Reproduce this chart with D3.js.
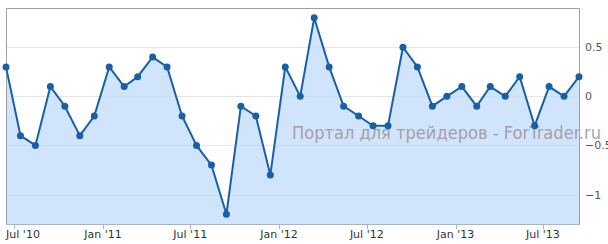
<!DOCTYPE html>
<html lang="en">
<head>
  <meta charset="utf-8">
  <title>Chart</title>
  <script src="https://d3js.org/d3.v7.min.js"></script>
  <style>
  body { margin: 0; background: #fff; }
  text { font-family: "DejaVu Sans", Verdana, sans-serif; }
  </style>
</head>
<body>
  <script>
  var width = 608;
  var height = 244;

  // monthly values, Jun 2010 .. Sep 2013
  var startMonth = [2010, 5];
  var values = [0.3, -0.4, -0.5, 0.1, -0.1, -0.4, -0.2, 0.3, 0.1, 0.2,
                0.4, 0.3, -0.2, -0.5, -0.7, -1.2, -0.1, -0.2, -0.8, 0.3,
                0, 0.8, 0.3, -0.1, -0.2, -0.3, -0.3, 0.5, 0.3, -0.1,
                0, 0.1, -0.1, 0.1, 0, 0.2, -0.3, 0.1, 0, 0.2];
  var yTicks = [-1, -0.5, 0, 0.5];
  var xTicks = ["2010-07", "2011-01", "2011-07", "2012-01", "2012-07", "2013-01", "2013-07"];
  var watermark = "Портал для трейдеров - ForTrader.ru";

  var data = values.map(function(v, i) {
    return { date: new Date(startMonth[0], startMonth[1] + i, 14), value: v };
  });

  var plotL = 6, plotR = 579, plotT = 8, plotB = 224;

  var svg = d3.select("body")
    .append("svg")
    .attr("width", width)
    .attr("height", height);

  var x = d3.scaleTime()
    .domain(d3.extent(data, function(d) { return d.date; }))
    .range([plotL, plotR]);

  var y = d3.scaleLinear()
    .domain([-1.3, 0.9])
    .range([plotB, plotT]);

  var parseMonth = d3.timeParse("%Y-%m");
  var fmt = d3.timeFormat("%b '%y");

  // grid
  svg.append("g")
    .selectAll("line")
    .data(yTicks)
    .enter().append("line")
      .attr("x1", plotL).attr("x2", plotR)
      .attr("y1", function(d) { return Math.round(y(d)) + 0.5; })
      .attr("y2", function(d) { return Math.round(y(d)) + 0.5; })
      .attr("stroke", "#e6e6e6");

  var area = d3.area()
    .x(function(d) { return x(d.date); })
    .y0(plotB)
    .y1(function(d) { return y(d.value); });

  svg.append("path")
    .datum(data)
    .attr("d", area)
    .attr("fill", "#bcd9fa")
    .attr("fill-opacity", 0.7);

  // watermark
  svg.append("text")
    .attr("x", 292)
    .attr("y", 139)
    .attr("font-size", "17px")
    .attr("textLength", 309)
    .attr("lengthAdjust", "spacingAndGlyphs")
    .attr("fill", "#9a8c8c")
    .attr("fill-opacity", 0.8)
    .text(watermark);

  // border
  svg.append("path")
    .attr("d", "M" + (plotL + 0.5) + "," + plotB + "V" + (plotT + 0.5) + "H" + (plotR + 0.5) + "V" + plotB)
    .attr("fill", "none")
    .attr("stroke", "#a0a0a0");

  var line = d3.line()
    .x(function(d) { return x(d.date); })
    .y(function(d) { return y(d.value); });

  svg.append("path")
    .datum(data)
    .attr("d", line)
    .attr("fill", "none")
    .attr("stroke", "#1760a8")
    .attr("stroke-width", 2);

  svg.append("g")
    .selectAll("circle")
    .data(data)
    .enter().append("circle")
      .attr("cx", function(d) { return x(d.date); })
      .attr("cy", function(d) { return y(d.value); })
      .attr("r", 3.5)
      .attr("fill", "#1760a8");

  // x axis
  var xAxis = svg.append("g");
  xAxis.append("line")
    .attr("x1", plotL).attr("x2", plotR + 1)
    .attr("y1", plotB + 0.5).attr("y2", plotB + 0.5)
    .attr("stroke", "#a8b4c4");

  var xt = xAxis.selectAll("g.tick")
    .data(xTicks.map(parseMonth))
    .enter().append("g")
      .attr("class", "tick");
  xt.append("line")
    .attr("x1", function(d) { return Math.round(x(d)) + 0.5; })
    .attr("x2", function(d) { return Math.round(x(d)) + 0.5; })
    .attr("y1", plotB)
    .attr("y2", plotB + 5)
    .attr("stroke", "#a8b4c4");
  xt.append("text")
    .attr("x", function(d) { return Math.max(x(d), 23); })
    .attr("y", 238)
    .attr("text-anchor", "middle")
    .attr("font-size", "11px")
    .attr("fill", "#333")
    .text(fmt);

  // y axis labels on the right
  svg.append("g")
    .selectAll("text")
    .data(yTicks)
    .enter().append("text")
      .attr("x", 585)
      .attr("y", function(d) { return y(d) + 4; })
      .attr("font-size", "11px")
      .attr("fill", "#555")
      .text(function(d) { return d < 0 ? "\u2212" + Math.abs(d) : d; });
  </script>
</body>
</html>
